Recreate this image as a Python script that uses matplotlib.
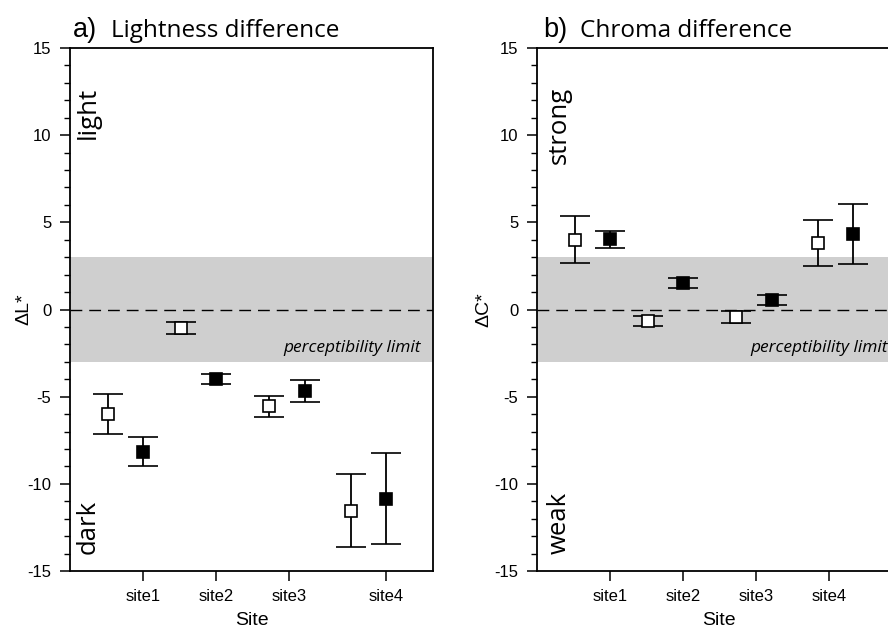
import matplotlib
matplotlib.use("Agg")
import matplotlib.pyplot as plt
from matplotlib.ticker import MultipleLocator

plt.rcParams["axes.unicode_minus"] = False

# ---- data ----
sites = ["site1", "site2", "site3", "site4"]
tick_pos_a = [1.0, 2.0, 3.0, 4.33]
tick_pos_b = [1.0, 2.0, 3.0, 4.0]
x_open = [0.52, 1.52, 2.73, 3.85]
x_filled = [1.0, 2.0, 3.22, 4.33]

dL_open = [-6.0, -1.05, -5.55, -11.55]
dL_open_err = [1.13, 0.33, 0.6, 2.1]
dL_filled = [-8.15, -4.0, -4.68, -10.85]
dL_filled_err = [0.83, 0.29, 0.61, 2.6]

dC_open = [4.0, -0.65, -0.42, 3.83]
dC_open_err = [1.36, 0.27, 0.33, 1.33]
dC_filled = [4.03, 1.52, 0.55, 4.33]
dC_filled_err = [0.5, 0.3, 0.3, 1.7]

limit = 3.0

sans = ["Liberation Sans", "DejaVu Sans"]
titlefont = ["Open Sans", "DejaVu Sans"]

fig = plt.figure(figsize=(8.88, 6.3), dpi=100)
W, H = 888, 630
axA = fig.add_axes([70 / W, 1 - 571 / H, 363 / W, 523 / H])
axB = fig.add_axes([537 / W, 1 - 571 / H, 363 / W, 523 / H])


def draw(ax, yo, yoe, yf, yfe, ticks, ylab, top_word, bot_word, wx, ylab_x):
    ax.set_xlim(0, 4.97)
    ax.set_ylim(-15, 15)
    ax.axhspan(-limit, limit, color="#cfcfcf", lw=0, zorder=0)
    ax.axhline(0, color="black", lw=1.0, ls=(0, (8.5, 5)), zorder=1)
    ax.errorbar(x_open, yo, yerr=yoe, fmt="s", ms=8, mfc="white", mec="black",
                mew=1.2, ecolor="black", elinewidth=1.3, capsize=11, capthick=1.3, zorder=3)
    ax.errorbar(x_filled, yf, yerr=yfe, fmt="s", ms=8.5, mfc="black", mec="black",
                mew=1.2, ecolor="black", elinewidth=1.3, capsize=11, capthick=1.3, zorder=3)
    ax.set_xticks(ticks)
    ax.set_xticklabels(sites, fontfamily=sans, fontsize=12)
    ax.yaxis.set_major_locator(MultipleLocator(5))
    ax.yaxis.set_minor_locator(MultipleLocator(1))
    for lab in ax.get_yticklabels():
        lab.set_fontfamily(sans)
        lab.set_fontsize(12)
    ax.tick_params(axis="y", which="major", direction="out", length=7.5, width=1.1, pad=6)
    ax.tick_params(axis="y", which="minor", direction="out", length=4, width=1.0)
    ax.tick_params(axis="x", which="major", direction="out", length=7, width=1.1, pad=6)
    ax.tick_params(top=False, right=False, which="both")
    for s in ax.spines.values():
        s.set_linewidth(1.3)
    ax.set_ylabel(ylab, fontfamily=sans, fontsize=14)
    ax.yaxis.set_label_coords(ylab_x, 0.5)
    ax.set_xlabel("Site", fontfamily=sans, fontsize=14, labelpad=6)
    ax.text(wx, 12.75, top_word, rotation=90, ha="center", va="top",
            fontsize=18.5, fontfamily=titlefont)
    ax.text(wx, -14.0, bot_word, rotation=90, ha="center", va="bottom",
            fontsize=18.5, fontfamily=titlefont)
    ax.text(4.81, -2.2, "perceptibility limit", ha="right", va="center",
            fontsize=12.5, style="italic", fontfamily=titlefont)


draw(axA, dL_open, dL_open_err, dL_filled, dL_filled_err, tick_pos_a,
     "ΔL*", "light", "dark", 0.25, -0.103)
draw(axB, dC_open, dC_open_err, dC_filled, dC_filled_err, tick_pos_b,
     "ΔC*", "strong", "weak", 0.31, -0.122)

fig.text(73 / W, 1 - 37 / H, "a)", fontsize=19.5, fontfamily=sans, ha="left", va="baseline")
fig.text(111 / W, 1 - 37 / H, "Lightness difference", fontsize=17.5, fontfamily=titlefont,
         ha="left", va="baseline")
fig.text(543 / W, 1 - 37 / H, "b)", fontsize=19.5, fontfamily=sans, ha="left", va="baseline")
fig.text(580 / W, 1 - 37 / H, "Chroma difference", fontsize=17.5, fontfamily=titlefont,
         ha="left", va="baseline")

fig.savefig("out.png", dpi=100)
